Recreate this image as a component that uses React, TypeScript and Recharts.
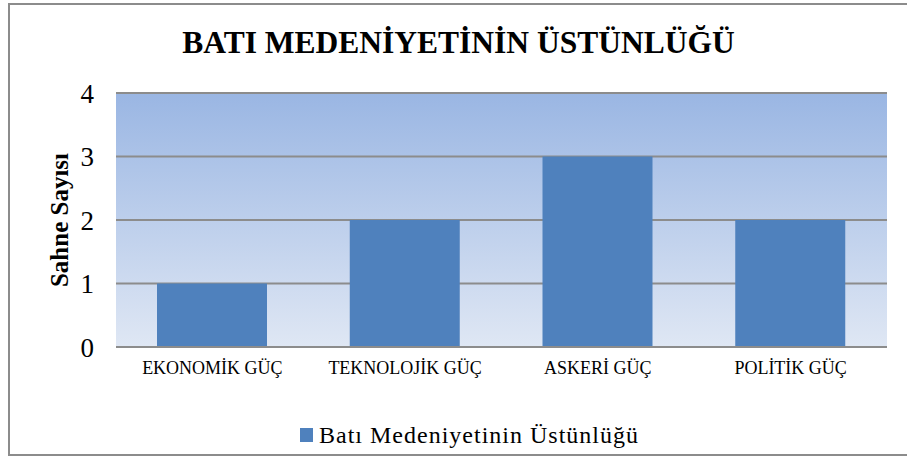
import { BarChart, Bar, XAxis, YAxis, CartesianGrid, Legend } from "recharts";

const categories = ["EKONOMİK GÜÇ", "TEKNOLOJİK GÜÇ", "ASKERİ GÜÇ", "POLİTİK GÜÇ"];
const sceneCounts = [1, 2, 3, 2];
const yTicks = [0, 1, 2, 3, 4];
const seriesName = "Batı Medeniyetinin Üstünlüğü";
const chartTitle = "BATI MEDENİYETİNİN ÜSTÜNLÜĞÜ";
const yLabel = "Sahne Sayısı";

const FONT = '"Liberation Serif", "Times New Roman", serif';
const BAR_COLOR = "#4F81BD";
const GRID_COLOR = "#8C8C8C";

const data = categories.map((name, i) => ({ name, value: sceneCounts[i] }));

export default function App() {
  return (
    <div
      style={{
        position: "absolute",
        left: 8,
        top: 3,
        width: 899,
        height: 453,
        boxSizing: "border-box",
        borderLeft: `2px solid ${GRID_COLOR}`,
        borderTop: `2px solid ${GRID_COLOR}`,
        borderBottom: `2px solid ${GRID_COLOR}`,
        background: "#fff",
        fontFamily: FONT,
      }}
    >
      {/* Title */}
      <div
        style={{
          position: "absolute",
          top: 22,
          left: 0,
          width: 897,
          textAlign: "center",
          fontSize: 31.5,
          lineHeight: "31.5px",
          fontWeight: "bold",
          color: "#000",
        }}
      >
        {chartTitle}
      </div>

      <BarChart
        width={897}
        height={449}
        data={data}
        margin={{ top: 88, right: 20, left: 0, bottom: 37 }}
      >
        <defs>
          <linearGradient id="plotBg" x1="0" y1="0" x2="0" y2="1">
            <stop offset="0%" stopColor="#9AB6E3" />
            <stop offset="100%" stopColor="#DFE7F4" />
          </linearGradient>
        </defs>
        <CartesianGrid
          vertical={false}
          stroke={GRID_COLOR}
          strokeWidth={2}
          fill="url(#plotBg)"
          fillOpacity={1}
        />
        <XAxis
          dataKey="name"
          height={40}
          tickLine={false}
          tickSize={0}
          tickMargin={14}
          axisLine={{ stroke: GRID_COLOR, strokeWidth: 2 }}
          tick={{ fill: "#000", fontSize: 18, fontFamily: FONT }}
          interval={0}
        />
        <YAxis
          width={106}
          domain={[0, 4]}
          ticks={yTicks}
          tickLine={false}
          tickSize={0}
          tickMargin={22}
          axisLine={false}
          tick={{ fill: "#000", fontSize: 27, fontFamily: FONT }}
          label={{
            value: yLabel,
            angle: -90,
            position: "center",
            dx: -4,
            style: { fontSize: 25, fontWeight: "bold", fill: "#000", fontFamily: FONT },
          }}
        />
        <Legend
          verticalAlign="bottom"
          height={30}
          wrapperStyle={{ top: 415, left: 0, width: 897, height: 30 }}
          content={(props: any) => (
            <div
              style={{
                display: "flex",
                justifyContent: "center",
                alignItems: "center",
                height: 30,
                paddingLeft: 22,
              }}
            >
              {(props.payload || []).map((entry: any) => (
                <div key={entry.value} style={{ display: "flex", alignItems: "center" }}>
                  <span
                    style={{
                      display: "inline-block",
                      width: 13,
                      height: 14,
                      background: entry.color,
                      marginRight: 6,
                    }}
                  />
                  <span style={{ fontSize: 24, letterSpacing: 1, color: "#000", fontFamily: FONT }}>
                    {entry.value}
                  </span>
                </div>
              ))}
            </div>
          )}
        />
        <Bar dataKey="value" name={seriesName} fill={BAR_COLOR} barSize={110} isAnimationActive={false} />
      </BarChart>
    </div>
  );
}
